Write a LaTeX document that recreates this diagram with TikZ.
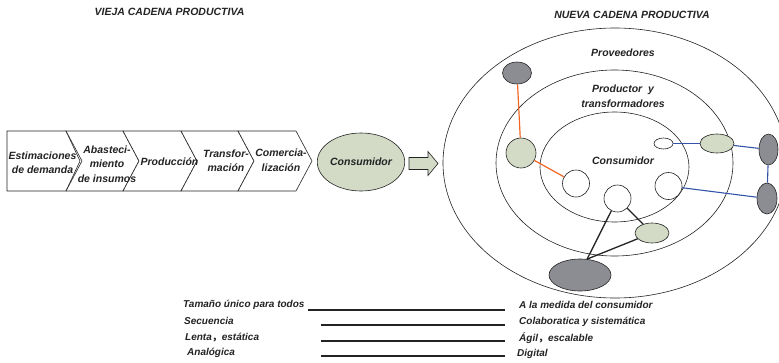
\documentclass[tikz,border=0pt]{standalone}
\usepackage{fontspec}
\setmainfont{Liberation Sans}
\newfontfamily\cjk{Noto Sans CJK SC}
\usepackage{tikz}
\usetikzlibrary{calc}
\usetikzlibrary{shapes.geometric}

\definecolor{sage}{RGB}{211,219,199}
\definecolor{slate}{RGB}{140,141,146}
\definecolor{linkorange}{RGB}{242,101,34}
\definecolor{linkblue}{RGB}{52,84,170}
\definecolor{ink}{RGB}{35,35,35}

\tikzset{
  lbl/.style={font=\fontsize{10.5}{14.5}\selectfont\bfseries\itshape, text=ink, align=center, inner sep=0pt},
  row/.style={font=\fontsize{10}{12}\selectfont\bfseries\itshape, text=ink, inner sep=0pt, anchor=base west},
  blob/.style={ellipse, draw=ink, line width=0.6pt, inner sep=0pt},
  ring/.style={draw=ink, line width=0.6pt},
}

\begin{document}
\begin{tikzpicture}[x=1pt,y=-1pt]
\useasboundingbox (0,0) rectangle (779,362);
\clip (0,0) rectangle (779,362);

\node[lbl] (t_old) at (169.5,12) {VIEJA CADENA PRODUCTIVA};
\node[lbl] (t_new) at (632,15) {NUEVA CADENA PRODUCTIVA};

% old chain
\draw [ring, fill=white] (7,131)--(66,131)--(80,161)--(66,191)--(7,191)--cycle;
\foreach \a/\b in {66/123, 123/181, 181/238, 238/296}
  \draw [ring, fill=white] (\a,131)--(\b,131)--(\b+16,161)--(\b,191)--(\a,191)--(\a+16,161)--cycle;

\node[lbl] (s_est) at (42.5,162.5) {Estimaciones\\de demanda};
\node[lbl] (s_aba) at (107,164) {Abasteci-\\miento\\de insumos};
\node[lbl] (s_pro) at (169.5,162) {Producción};
\node[lbl] (s_tra) at (226,160.5) {Transfor-\\mación};
\node[lbl] (s_com) at (281,160) {Comercia-\\lización};

\node[blob, lbl, fill=sage, minimum width=72pt, minimum height=58pt] (cons_old) at (361,162) {Consumidor};

\draw [ring, fill=sage] (409,157.5)--(428,157.5)--(428,151.5)--(438,163.5)--(428,175.5)--(428,169.5)--(409,169.5)--cycle;

% new chain
\draw [ring] (615,163) ellipse [x radius=172, y radius=135];
\draw [ring] (614.5,163) ellipse [x radius=118.5, y radius=93];
\draw [ring] (614.5,167) ellipse [x radius=74.5, y radius=55];

\node[lbl] (r_prov) at (623,53) {Proveedores};
\node[lbl] (r_prod) at (623,96) {Productor\ \ y\\transformadores};
\node[lbl] (r_cons) at (623,161) {Consumidor};

\node[blob, fill=slate, minimum width=29pt, minimum height=22pt] (prov_a) at (517,73) {};
\node[blob, fill=sage, minimum width=30pt, minimum height=30pt] (prod_a) at (521,153) {};
\node[blob, fill=white, minimum width=27pt, minimum height=27pt] (cons_a) at (576,183.5) {};
\node[blob, fill=white, minimum width=19pt, minimum height=11pt] (cons_b) at (663.5,143.5) {};
\node[blob, fill=sage, minimum width=34pt, minimum height=19pt] (prod_b) at (717,143.5) {};
\node[blob, fill=slate, minimum width=19pt, minimum height=31pt] (prov_b) at (768.5,149.5) {};
\node[blob, fill=slate, minimum width=20pt, minimum height=31pt] (prov_c) at (767,198.5) {};
\node[blob, fill=white, minimum width=27pt, minimum height=27pt] (cons_c) at (668.5,186) {};
\node[blob, fill=white, minimum width=27pt, minimum height=27pt] (cons_d) at (617.5,198.5) {};
\node[blob, fill=sage, minimum width=34pt, minimum height=20pt] (prod_c) at (652,233) {};
\node[blob, fill=slate, minimum width=62pt, minimum height=32pt] (prov_d) at (580,275) {};

\draw [color=linkorange, line width=1.2pt] (prov_a)--(prod_a);
\draw [color=linkorange, line width=1.2pt] (prod_a)--(cons_a);

\draw [color=linkblue, line width=1.1pt] (cons_b)--(prod_b);
\draw [color=linkblue, line width=1.1pt] (prod_b)--(prov_b);
\draw [color=linkblue, line width=1.1pt] (prov_b)--(prov_c);
\draw [color=linkblue, line width=1.1pt] (cons_c)--(prov_c);

\draw [color=ink, line width=1.3pt] (cons_d)--(prov_d.66);
\draw [color=ink, line width=1.3pt] (cons_d)--(prod_c);
\draw [color=ink, line width=1.3pt] (prod_c)--(prov_d.66);

% old vs new
\node[row] (o_1) at (183,307.5) {Tamaño único para todos};
\node[row] (o_2) at (184,324.5) {Secuencia};
\node[row] (o_3) at (185,340) {Lenta{\cjk ，}estática};
\node[row] (o_4) at (187,355.7) {Analógica};

\node[row] (n_1) at (519,308.3) {A la medida del consumidor};
\node[row] (n_2) at (519,324.3) {Colaboratica y sistemática};
\node[row] (n_3) at (519,341) {Ágil{\cjk ，}escalable};
\node[row] (n_4) at (517,356.7) {Digital};

\coordinate (l_1) at (308,310);
\coordinate (l_2) at (321,325);
\coordinate (l_3) at (321,341);
\coordinate (l_4) at (321,356);
\foreach \i in {1,...,4}
  \draw [color=ink, line width=1.2pt] (l_\i)--(l_\i-|505,0);

\end{tikzpicture}
\end{document}
